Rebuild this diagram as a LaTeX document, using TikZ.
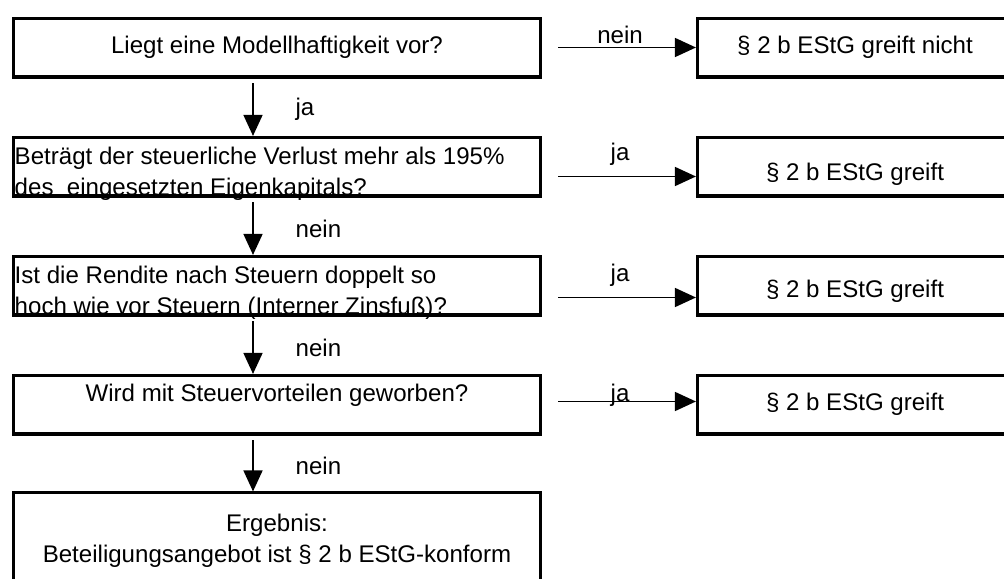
\documentclass[tikz,border=0pt]{standalone}
\usepackage{fontspec}
\setmainfont{Liberation Sans}
\usetikzlibrary{arrows.meta,positioning}

\newcommand{\lowlines}[2]{\begin{tabular}[b]{@{}p{10.49cm}@{}}#1\\#2\end{tabular}}

\begin{document}
\begin{tikzpicture}[node distance=2.38cm,>={Triangle[length=4.2mm,width=3.8mm]},
    font=\fontsize{13.7}{17.5}\selectfont]
  \useasboundingbox (0,0) rectangle (20.08,-11.58);
  \tikzset{
    question/.style={rectangle,draw=black,line width=1.5pt,minimum width=10.55cm,minimum height=1.17cm,align=center,inner sep=0pt},
    questionLow/.style={question,text height=1.17cm,text depth=0pt,inner xsep=.03cm},
    verdict/.style={rectangle,draw=black,line width=1.5pt,minimum width=6.31cm,minimum height=1.17cm,inner sep=0pt},
    result/.style={question,minimum height=1.91cm},
    % text nudges
    textDown/.style={text height=#1,text depth=.1cm},
    textUp/.style={text height=.35cm,text depth=#1},
    % edge styles
    flow/.style={->,line width=.9pt},
    heavyEdge/.style={line width=1.6pt},
    % label styles
    answer/.style={anchor=base,pos=.45},
    answerDown/.style={midway,right=.72cm}
  }

  %%% Question chain

  \node[question] (q1) at (5.54,-0.95) {Liegt eine Modellhaftigkeit vor?};
  \node[questionLow] (q2) [below of=q1] {\lowlines{Beträgt der steuerliche Verlust mehr als 195\%}{des\ \ eingesetzten Eigenkapitals?}};
  \node[questionLow] (q3) [below of=q2] {\lowlines{Ist die Rendite nach Steuern doppelt so}{hoch wie vor Steuern (Interner Zinsfuß)?}};
  \node[question,textUp=.46cm] (q4) [below of=q3] {Wird mit Steuervorteilen geworben?};
  \node[result] (q5) [below of=q4, node distance=2.72cm] {Ergebnis:\\Beteiligungsangebot ist § 2 b EStG-konform};

  \draw[flow] ([xshift=-4.8mm,yshift=-1mm]q1.south) -- ([xshift=-4.8mm]q2.north) node[answerDown] {ja};
  \draw[flow] ([xshift=-4.8mm,yshift=-1mm]q2.south) -- ([xshift=-4.8mm]q3.north) node[answerDown] {nein};
  \draw[flow] ([xshift=-4.8mm,yshift=-1mm]q3.south) -- ([xshift=-4.8mm]q4.north) node[answerDown] {nein};
  \draw[flow] ([xshift=-4.8mm,yshift=-1mm]q4.south) -- ([xshift=-4.8mm]q5.north) node[answerDown] {nein};

  %%% Verdicts

  \node[verdict] (r1) [right of=q1, node distance=11.56cm] {§ 2 b EStG greift nicht};
  \node[verdict,textDown=.67cm] (r2) [right of=q2, node distance=11.56cm] {§ 2 b EStG greift};
  \node[verdict,textDown=.59cm] (r3) [right of=q3, node distance=11.56cm] {§ 2 b EStG greift};
  \node[verdict] (r4) [right of=q4, node distance=11.56cm] {§ 2 b EStG greift};

  \draw[flow] ([xshift=3.2mm]q1.east) -- (r1.west) node[answer,yshift=.8mm] {nein};
  \draw[flow] ([xshift=3.2mm,yshift=-2mm]q2.east) -- ([yshift=-2mm]r2.west) node[answer,yshift=3.2mm] {ja};
  \draw[flow] ([xshift=3.2mm,yshift=-2.4mm]q3.east) -- ([yshift=-2.4mm]r3.west) node[answer,yshift=3.2mm] {ja};
  \draw[flow] ([xshift=3.2mm,yshift=.6mm]q4.east) -- ([yshift=.6mm]r4.west) node[answer] {ja};

  % heavier bottom edges
  \foreach \n in {q1,q2,q3,q4,r1,r2,r3,r4}
    \draw[heavyEdge] (\n.south west) -- (\n.south east);

\end{tikzpicture}
\end{document}
